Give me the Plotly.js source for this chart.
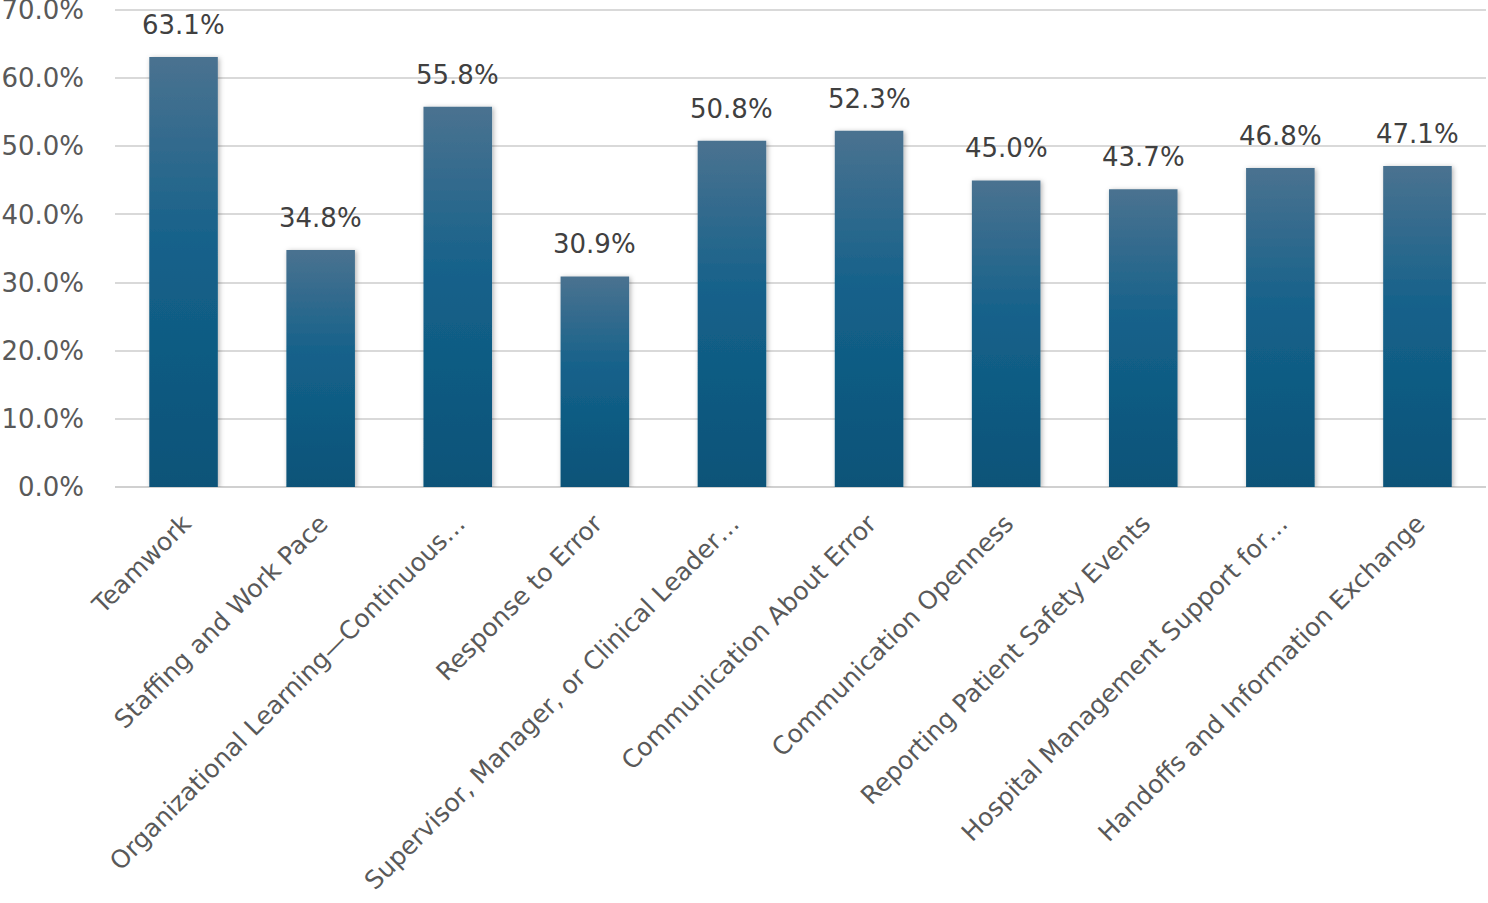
<!DOCTYPE html>
<html>
<head>
<meta charset="utf-8">
<script src="https://cdn.plot.ly/plotly-3.0.1.min.js"></script>
<style>
    html, body { margin: 0; padding: 0; background: #ffffff; }
</style>
</head>
<body>
<div id="chart" style="width:1488px;height:903px"></div>
<script>
let categories = [
    "Teamwork",
    "Staffing and Work Pace",
    "Organizational Learning\u2014Continuous\u2026",
    "Response to Error",
    "Supervisor, Manager, or Clinical Leader\u2026",
    "Communication About Error",
    "Communication Openness",
    "Reporting Patient Safety Events",
    "Hospital Management Support for\u2026",
    "Handoffs and Information Exchange"
];
let scores = [63.1, 34.8, 55.8, 30.9, 50.8, 52.3, 45.0, 43.7, 46.8, 47.1];
let score_labels = ["63.1%", "34.8%", "55.8%", "30.9%", "50.8%", "52.3%", "45.0%", "43.7%", "46.8%", "47.1%"];
let y_ticks = [0, 10, 20, 30, 40, 50, 60, 70];
let y_tick_labels = ["0.0%", "10.0%", "20.0%", "30.0%", "40.0%", "50.0%", "60.0%", "70.0%"];

let font_family = "DejaVu Sans, Noto Sans, sans-serif";
let label_color = "#595959";
let value_color = "#404040";
let grid_color = "#d9d9d9";

function plotScores() {
    var data = [
        {
            type: "bar",
            x: categories,
            y: scores,
            marker: {
                color: "#0f5c82",
                line: { width: 0 }
            },
            hoverinfo: "none",
            showlegend: false
        }
    ];

    // value labels sit a bit higher above the bars than plotly's own outside text
    var annotations = [];
    for (var i = 0; i < categories.length; ++i) {
        annotations.push({
            x: categories[i],
            y: scores[i],
            xref: "x",
            yref: "y",
            text: score_labels[i],
            showarrow: false,
            yanchor: "bottom",
            yshift: 15,
            font: { family: font_family, size: 26, color: value_color }
        });
    }

    var layout = {
        width: 1488,
        height: 903,
        margin: { l: 115, r: 2, t: 8, b: 416 },
        paper_bgcolor: "#ffffff",
        plot_bgcolor: "#ffffff",
        bargap: 0.5,
        annotations: annotations,
        font: { family: font_family, color: label_color },
        xaxis: {
            type: "category",
            tickangle: -45,
            automargin: false,
            showgrid: false,
            showline: false,
            zeroline: false,
            ticks: "",
            ticklabelstandoff: 16,
            tickfont: { family: font_family, size: 25, color: label_color }
        },
        yaxis: {
            range: [0, 70.3],
            tickvals: y_ticks,
            ticktext: y_tick_labels,
            automargin: false,
            ticklabeloverflow: "allow",
            showgrid: true,
            gridcolor: grid_color,
            gridwidth: 2,
            zeroline: true,
            zerolinecolor: "#d0d0d0",
            zerolinewidth: 2,
            showline: false,
            ticks: "",
            ticklabelstandoff: 30,
            tickfont: { family: font_family, size: 26, color: label_color }
        }
    };

    Plotly.newPlot("chart", data, layout, { staticPlot: true, displayModeBar: false }).then(function (gd) {
        addBarStyle(gd);
    });
}

function addBarStyle(gd) {
    var svg = gd.querySelector(".main-svg");
    var ns = "http://www.w3.org/2000/svg";
    var defs = svg.querySelector("defs");
    if (!defs) {
        defs = document.createElementNS(ns, "defs");
        svg.insertBefore(defs, svg.firstChild);
    }
    defs.insertAdjacentHTML("beforeend",
        '<linearGradient id="barFill" x1="0" y1="0" x2="0" y2="1">' +
        '<stop offset="0" stop-color="#4a7290"/>' +
        '<stop offset="0.45" stop-color="#14618a"/>' +
        '<stop offset="1" stop-color="#0a5378"/>' +
        '</linearGradient>' +
        '<filter id="barShadow" x="-20%" y="-10%" width="140%" height="120%">' +
        '<feDropShadow dx="1.5" dy="1" stdDeviation="2.5" flood-color="#000000" flood-opacity="0.3"/>' +
        '</filter>');

    gd.querySelectorAll(".trace.bars .point path").forEach(function (p) {
        p.style.fill = "url(#barFill)";
        p.setAttribute("filter", "url(#barShadow)");
    });
}

plotScores();
</script>
</body>
</html>
